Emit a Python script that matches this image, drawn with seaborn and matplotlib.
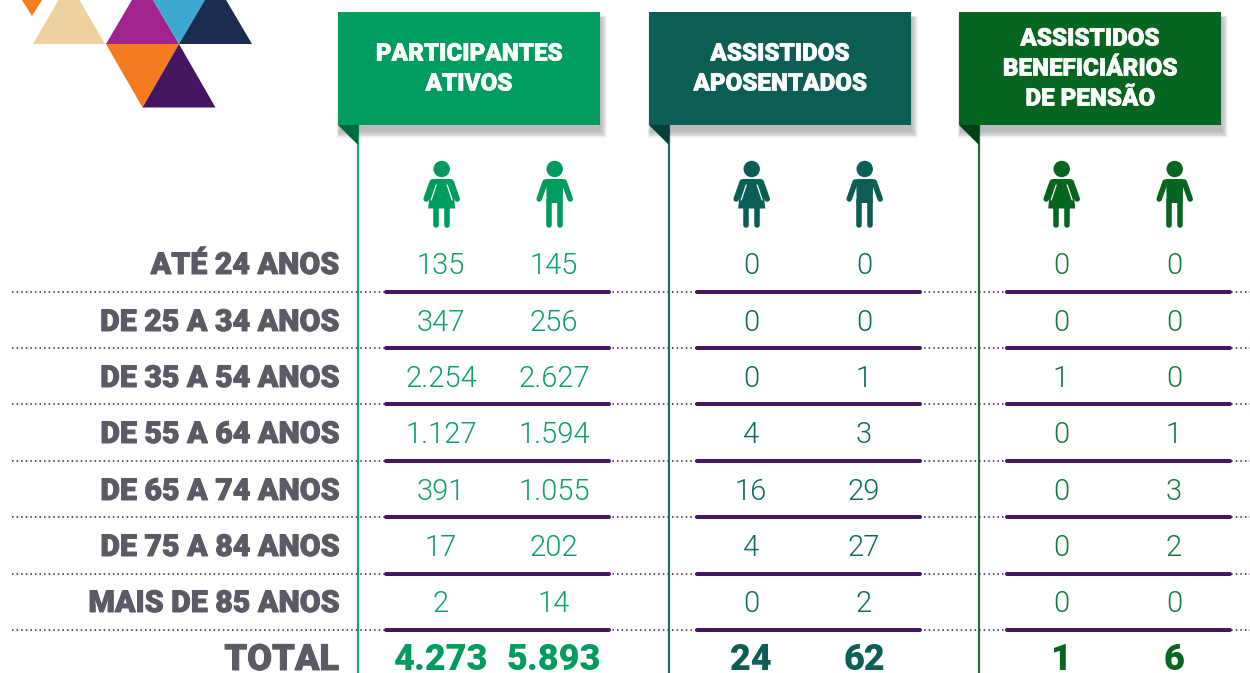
# -*- coding: utf-8 -*-
import matplotlib
matplotlib.use("Agg")
import matplotlib.pyplot as plt
import matplotlib.patheffects as pe
from matplotlib.patches import Polygon, Rectangle, Circle
import pandas as pd
import seaborn as sns

# data
ages = ["ATÉ 24 ANOS", "DE 25 A 34 ANOS", "DE 35 A 54 ANOS", "DE 55 A 64 ANOS",
        "DE 65 A 74 ANOS", "DE 75 A 84 ANOS", "MAIS DE 85 ANOS"]
ativos_f = ["135", "347", "2.254", "1.127", "391", "17", "2"]
ativos_m = ["145", "256", "2.627", "1.594", "1.055", "202", "14"]
apos_f = ["0", "0", "0", "4", "16", "4", "0"]
apos_m = ["0", "0", "1", "3", "29", "27", "2"]
pens_f = ["0", "0", "1", "0", "0", "0", "0"]
pens_m = ["0", "0", "0", "1", "3", "2", "0"]
totals = ["4.273", "5.893", "24", "62", "1", "6"]
headers = [["PARTICIPANTES", "ATIVOS"], ["ASSISTIDOS", "APOSENTADOS"],
           ["ASSISTIDOS", "BENEFICIÁRIOS", "DE PENSÃO"]]

# layout, pixels of the 1250x673 picture
row_y = [266, 323, 379, 435, 492, 548, 604]
rule_y = [291.5, 348, 404, 460.5, 517, 573.5, 630]
total_y = 660
col_x = [441, 554, 751, 864, 1061, 1174]
box_x = [338, 649, 959]
colors = ["#009B5E", "#0B5E55", "#06651F"]
dark_folds = ["#006B41", "#073F3A", "#004415"]
num_colors = ["#0E9F63", "#0B6A5E", "#147A3A"]
purple = "#43165F"
grey = "#5B5B66"

sns.set_theme(style="white")
plt.rcParams["font.family"] = ["Roboto", "DejaVu Sans"]

fig = plt.figure(figsize=(12.5, 6.73), dpi=100)
ax = fig.add_axes([0, 0, 1, 1])
ax.set_xlim(0, 1250)
ax.set_ylim(673, 0)
ax.axis("off")

# triangles top left
tris = [("#F57F20", [(20, -3), (44, -3), (32, 16)]),
        ("#EFD1A0", [(33, 44), (105, 44), (69, -18)]),
        ("#A0248E", [(106, 44), (179, 44), (142.5, -18)]),
        ("#3DA9D3", [(142.5, -18), (215.5, -18), (179, 44)]),
        ("#1A2C50", [(179, 44), (252, 44), (215.5, -18)]),
        ("#F57B20", [(106, 44), (179, 44), (142.5, 107.5)]),
        ("#431662", [(142.5, 107.5), (215.5, 107.5), (179, 44)])]
for c, pts in tris:
    ax.add_patch(Polygon(pts, closed=True, fc=c, ec="none"))


def person(x, color, woman):
    x = x + 0.7
    ax.add_patch(Circle((x, 169), 8.2, fc=color, ec="none", zorder=3))
    kw = dict(color=color, lw=4.0, solid_capstyle="round", zorder=3)
    # arms
    ax.plot([x - 9.5, x - 15.5], [182, 199], **kw)
    ax.plot([x + 9.5, x + 15.5], [182, 199], **kw)
    # legs
    ax.plot([x - 5.5, x - 5.5], [200, 225], **kw)
    ax.plot([x + 5.5, x + 5.5], [200, 225], **kw)
    if woman:
        ax.add_patch(Polygon([(x - 9, 179), (x + 9, 179), (x + 11, 182), (x + 13.5, 208.5),
                              (x - 13.5, 208.5), (x - 11, 182)],
                             closed=True, fc=color, ec="none", zorder=3))
        ax.plot([x - 5.5, x - 10.5], [185, 200], color="white", lw=0.9, zorder=4)
        ax.plot([x + 5.5, x + 10.5], [185, 200], color="white", lw=0.9, zorder=4)
    else:
        ax.add_patch(Polygon([(x - 8.5, 179), (x + 8.5, 179), (x + 8, 203), (x - 8, 203)],
                             closed=True, fc=color, ec="none", zorder=3))
        ax.plot([x, x], [203, 228], color="white", lw=1.0, zorder=4)


# dotted rows and purple rules, one line per rule and panel
rows = pd.DataFrame([{"x": x, "y": y, "r": i} for i, y in enumerate(rule_y) for x in (12, 1250)])
sns.lineplot(data=rows, x="x", y="y", units="r", estimator=None, color=purple,
             lw=1.1, ls=(0, (1, 2)), ax=ax, legend=False, zorder=1)
rules = pd.DataFrame([{"x": b + off, "y": y, "r": f"{b}-{i}"}
                      for b in box_x for i, y in enumerate(rule_y) for off in (48, 271)])
sns.lineplot(data=rules, x="x", y="y", units="r", estimator=None, color=purple,
             lw=2.9, ax=ax, legend=False, zorder=2, solid_capstyle="round")
ax.set_xlim(0, 1250)
ax.set_ylim(673, 0)
ax.set_xlabel("")
ax.set_ylabel("")

# header ribbons
for i, bx in enumerate(box_x):
    c = colors[i]
    # soft shadow, mostly below and to the right
    for k in range(8):
        ax.add_patch(Rectangle((bx - 1 + k * 0.3, 16 + k * 0.2), 262 + 8 - k * 1.1, 113 + 9 - k,
                               fc="#000000", alpha=0.035, ec="none", zorder=4))
    ax.add_patch(Rectangle((bx, 12), 262, 113, fc=c, ec="none", zorder=5))
    ax.add_patch(Polygon([(bx, 125), (bx + 20, 125), (bx + 20, 145)], closed=True,
                         fc=dark_folds[i], ec="none", zorder=5))
    ax.plot([bx + 19.5, bx + 19.5], [125, 673], color=c, lw=1.6, alpha=0.9, zorder=3)
    lines = headers[i]
    start = 54 if len(lines) == 2 else 39
    for j, t in enumerate(lines):
        ax.text(bx + 131, start + j * 30, t, color="white", fontsize=17.4, fontweight=900,
                ha="center", va="center", zorder=6,
                path_effects=[pe.withStroke(linewidth=0.5, foreground="white")])

for i in range(3):
    person(col_x[i * 2], colors[i], True)
    person(col_x[i * 2 + 1], colors[i], False)

# table
columns = [ativos_f, ativos_m, apos_f, apos_m, pens_f, pens_m]
heavy = [pe.withStroke(linewidth=0.7, foreground=grey)]
for i, lab in enumerate(ages):
    ax.text(339, row_y[i], lab, color=grey, fontsize=21.8, fontweight=900, ha="right", va="center",
            path_effects=heavy)
    for j, col in enumerate(columns):
        ax.text(col_x[j], row_y[i], col[i], color=num_colors[j // 2], fontsize=21, fontweight=300,
                ha="center", va="center")
ax.text(339, total_y, "TOTAL", color=grey, fontsize=26, fontweight=900, ha="right", va="center",
        path_effects=heavy)
for j, t in enumerate(totals):
    ax.text(col_x[j], total_y, t, color=colors[j // 2], fontsize=26, fontweight=900,
            ha="center", va="center")

fig.savefig("out.png", dpi=100)
